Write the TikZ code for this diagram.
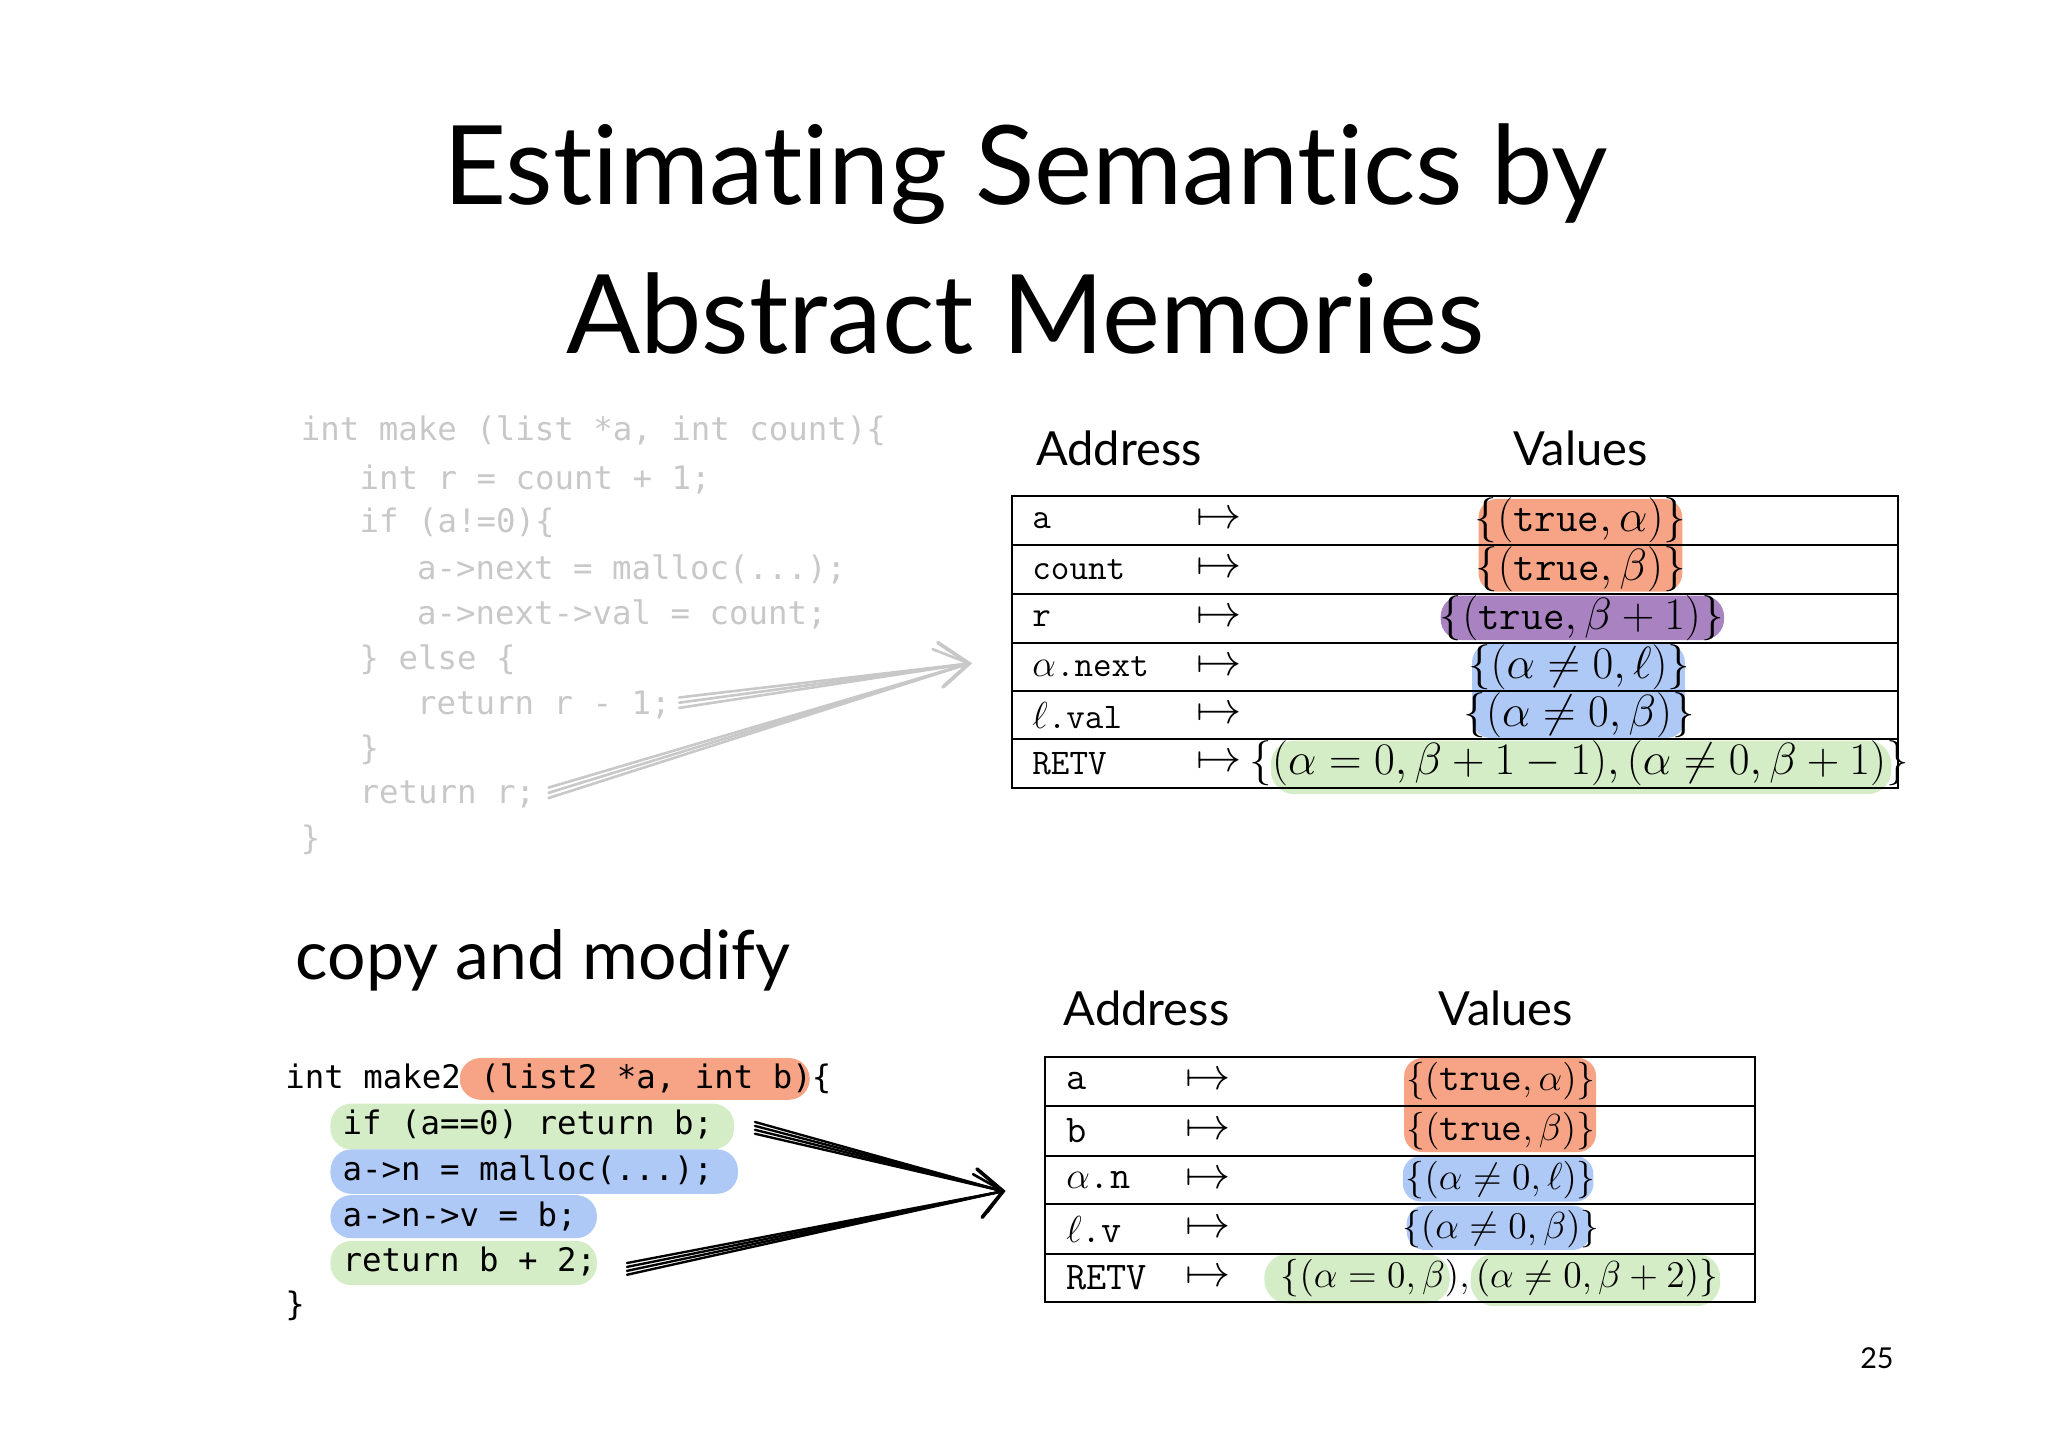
\documentclass[tikz,border=0pt]{standalone}
\usepackage{fontspec}
\usepackage{amsmath}
\newfontfamily\gill[Ligatures=CommonOff]{Lato}
\newfontfamily\codefont{DejaVu Sans Mono}
\definecolor{hlor}{HTML}{F6A485}
\definecolor{hlpu}{HTML}{A982C2}
\definecolor{hlbl}{HTML}{AFC9F6}
\definecolor{hlgr}{HTML}{D5EDC6}
\definecolor{faint}{HTML}{C8C8C8}
\tikzset{
 hl/.style={rounded corners=7pt},
 gcode/.style={anchor=west,inner sep=0pt,font=\codefont\fontsize{12.4}{14}\selectfont,text=faint},
 bcode/.style={anchor=west,inner sep=0pt,font=\codefont\fontsize{12.4}{14}\selectfont,text=black},
 tcell/.style={anchor=west,inner sep=0pt,font=\fontsize{13.8}{16}\selectfont},
 btcell/.style={anchor=west,inner sep=0pt,font=\fontsize{15}{17}\selectfont},
 vcell/.style={inner sep=0pt,font=\fontsize{16}{18}\selectfont},
 bvcell/.style={inner sep=0pt,font=\fontsize{15.4}{17}\selectfont},
 mto/.style={inner sep=0pt,font=\fontsize{16}{18}\selectfont},
 hdr/.style={inner sep=0pt,font=\gill\fontsize{18}{20}\selectfont},
 sk/.style={line width=0.6pt,line cap=round}
}
\begin{document}
\begin{tikzpicture}[x=0.5pt,y=-0.5pt]
\useasboundingbox (0,0) rectangle (1568,1108);
% title
\node[font=\gill\fontsize{42}{46}\selectfont,inner sep=0pt] (t1) at (785,133) {Estimating Semantics by};
\node[font=\gill\fontsize{42}{46}\selectfont,inner sep=0pt] (t2) at (785,240) {Abstract Memories};
% top code
\node[gcode] (c1) at (230,330) {int make (list *a, int count)\{};
\node[gcode] (c2) at (275,367) {int r = count + 1;};
\node[gcode] (c3) at (275,400) {if (a!=0)\{};
\node[gcode] (c4) at (319,436) {a->next = malloc(...);};
\node[gcode] (c5) at (319,470) {a->next->val = count;};
\node[gcode] (c6) at (275,505) {\} else \{};
\node[gcode] (c7) at (319,540) {return r - 1;};
\node[gcode] (c8) at (275,574) {\}};
\node[gcode] (c9) at (275,608) {return r;};
\node[gcode] (c10) at (230,643) {\}};
% gray arrows
\coordinate (ga1) at (520,538);
\coordinate (ga2) at (420,607);
\coordinate (gt) at (742,508);
\foreach \d in {0,2,-2}{
 \draw[sk,faint,line width=1pt] ([yshift=\d]ga1) -- (gt);
 \draw[sk,faint,line width=1pt] ([yshift=\d]ga2) -- (gt);
}
\draw[sk,faint,line width=1.4pt] (718,492) -- (gt) -- (722,526);
\draw[sk,faint,line width=1pt] (714,497) -- (gt) -- (726,522);
% top table headers
\node[hdr,anchor=west] (h1) at (793,343) {Address};
\node[hdr] (h2) at (1210,343) {Values};
% highlights top
\fill[hlor,hl] (1132,382) rectangle (1288,453);
\fill[hlpu,rounded corners=8pt] (1103,456) rectangle (1320,490);
\fill[hlbl,hl] (1127,493) rectangle (1290,565);
\fill[hlgr,rounded corners=9pt] (973,567) rectangle (1448,608);
% top table
\draw[line width=0.8pt] (775,380) rectangle (1453,603);
\foreach \y in {417,455,492,529,566}{\draw[line width=0.8pt] (775,\y) -- (1453,\y);}
\node[tcell] (a1) at (790,398.5) {\texttt{a}};
\node[tcell] (a2) at (790,436) {\texttt{count}};
\node[tcell] (a3) at (790,473.5) {\texttt{r}};
\node[tcell] (a4) at (790,510.5) {$\alpha$\texttt{.next}};
\node[tcell] (a5) at (790,547.5) {$\ell$\texttt{.val}};
\node[tcell] (a6) at (790,584.5) {\texttt{RETV}};
\foreach \y [count=\i] in {398.5,436,473.5,510.5,547.5,584.5}{\node[mto] (m\i) at (933,\y) {$\mapsto$};}
\node[vcell] (v1) at (1210,398.5) {$\{(\texttt{true},\alpha)\}$};
\node[vcell] (v2) at (1210,436) {$\{(\texttt{true},\beta)\}$};
\node[vcell] (v3) at (1211,473.5) {$\{(\texttt{true},\beta+1)\}$};
\node[vcell] (v4) at (1209,510.5) {$\{(\alpha\neq0,\ell)\}$};
\node[vcell] (v5) at (1209,547.5) {$\{(\alpha\neq0,\beta)\}$};
\node[vcell] (v6) at (1209,584.5) {$\{(\alpha=0,\beta+1-1),(\alpha\neq0,\beta+1)\}$};
% copy and modify
\node[font=\gill\fontsize{26}{30}\selectfont,anchor=west,inner sep=0pt] (cm) at (226,735) {copy and modify};
% bottom code highlights
\fill[hlor,rounded corners=8pt] (352,810) rectangle (620,842);
\fill[hlgr,rounded corners=8pt] (253,845) rectangle (562,880);
\fill[hlbl,rounded corners=8pt] (253,880) rectangle (565,914);
\fill[hlbl,rounded corners=8pt] (253,915) rectangle (457,948);
\fill[hlgr,rounded corners=8pt] (253,950) rectangle (457,984);
\node[bcode] (d1) at (218,826) {int make2 (list2 *a, int b)\{};
\node[bcode] (d2) at (262,861) {if (a==0) return b;};
\node[bcode] (d3) at (262,896) {a->n = malloc(...);};
\node[bcode] (d4) at (262,931) {a->n->v = b;};
\node[bcode] (d5) at (262,966) {return b + 2;};
\node[bcode] (d6) at (218,1000) {\}};
% black arrows
\coordinate (ba1) at (578,865);
\coordinate (ba2) at (480,973);
\coordinate (bt) at (768,912);
\foreach \d in {0,1.5,-1.5,3}{
 \draw[sk,black,line width=0.9pt] ([yshift=\d]ba1) -- (bt);
 \draw[sk,black,line width=0.9pt] ([yshift=\d]ba2) -- (bt);
}
\draw[sk,line width=1.4pt] (748,895) -- (bt) -- (752,932);
\draw[sk,line width=1pt] (745,899) -- (bt) -- (756,928);
% bottom table headers
\node[hdr,anchor=west] (h3) at (814,772) {Address};
\node[hdr] (h4) at (1153,772) {Values};
% bottom highlights
\fill[hlor,hl] (1075,810) rectangle (1222,882);
\fill[hlbl,hl] (1074,885) rectangle (1220,920);
\fill[hlbl,hl] (1077,923) rectangle (1218,957);
\fill[hlgr,rounded corners=9pt] (968,960) rectangle (1110,998);
\fill[hlgr,rounded corners=9pt] (1126,960) rectangle (1317,1000);
\draw[line width=0.8pt] (800,809) rectangle (1344,997);
\foreach \y in {847,885,922,960}{\draw[line width=0.8pt] (800,\y) -- (1344,\y);}
\node[btcell] (b1) at (816,828) {\texttt{a}};
\node[btcell] (b2) at (816,866) {\texttt{b}};
\node[btcell] (b3) at (816,903.5) {$\alpha$\texttt{.n}};
\node[btcell] (b4) at (816,941) {$\ell$\texttt{.v}};
\node[btcell] (b5) at (816,978.5) {\texttt{RETV}};
\foreach \y [count=\i] in {828,866,903.5,941,978.5}{\node[mto] (n\i) at (925,\y) {$\mapsto$};}
\node[bvcell] (w1) at (1149,828) {$\{(\texttt{true},\alpha)\}$};
\node[bvcell] (w2) at (1149,866) {$\{(\texttt{true},\beta)\}$};
\node[bvcell] (w3) at (1149,903.5) {$\{(\alpha\neq0,\ell)\}$};
\node[bvcell] (w4) at (1149,941) {$\{(\alpha\neq0,\beta)\}$};
\node[bvcell] (w5) at (1148,978.5) {$\{(\alpha=0,\beta),(\alpha\neq0,\beta+2)\}$};
% page number
\node[font=\gill\fontsize{11}{12}\selectfont,inner sep=0pt] (pg) at (1437,1040) {25};
\end{tikzpicture}
\end{document}
